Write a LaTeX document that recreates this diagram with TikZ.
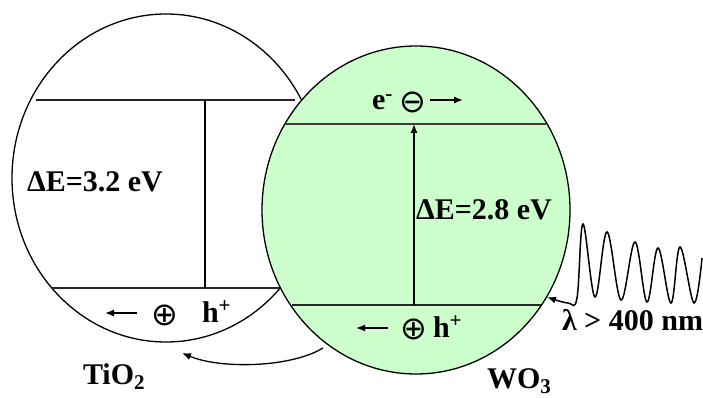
\documentclass[tikz,border=0pt]{standalone}
\usepackage{fontspec}
\setmainfont{Liberation Serif}
\newfontfamily\symfont{DejaVu Sans}
\usetikzlibrary{shapes.geometric,arrows.meta}
\definecolor{wogreen}{RGB}{204,255,204}
\begin{document}
\begin{tikzpicture}[x=1pt,y=-1pt,
  every node/.style={inner sep=0pt, outer sep=0pt},
  txt/.style={font=\fontsize{30}{32}\selectfont\bfseries},
  sym/.style={font=\fontsize{32}{34}\selectfont\symfont},
  particle/.style={ellipse, draw=black, line width=1.3pt, inner sep=0pt,
    minimum width=308pt, minimum height=328pt},
  band/.style={line width=1.5pt, draw=black!85},
  tip/.style={-{Latex[length=9pt,width=7pt]}},
  conn/.style={line width=1.3pt}]
\useasboundingbox (0,0) rectangle (703,398);

% TiO2 particle
\node[particle, fill=white] (tio2) at (166,178) {};
\draw[band] (36,100) -- (295,100);
\draw[band] (52,288) -- (280,288);
\coordinate (tcb) at (205,100);
\coordinate (tvb) at (205,288);
\draw[conn] (tvb) -- (tcb);
\node[txt, anchor=base west] (dE1) at (27,191) {ΔE=3.2 eV};
\coordinate (ta1) at (137,313);
\coordinate (ta2) at (105,313);
\draw[conn, tip] (ta1) -- (ta2);
\node[sym] (tplus) at (165,315) {⊕};
\node[txt, anchor=base west] (th) at (202,322) {h\textsuperscript{+}};

% WO3 particle
\node[particle, fill=wogreen] (wo3) at (416,210) {};
\draw[band, draw=black!75] (285,124) -- (546,124);
\draw[band] (292,305) -- (541,305);
\coordinate (wcb) at (414,124);
\coordinate (wvb) at (414,305);
\draw[conn, tip] (wvb) -- (wcb);
\node[txt, anchor=base west] (dE2) at (416,219) {ΔE=2.8 eV};
\node[txt, anchor=base west] (we) at (372,110) {e\textsuperscript{-}};
\node[sym] (wminus) at (413,102) {⊖};
\coordinate (wa1) at (430,100);
\coordinate (wa2) at (463,100);
\draw[conn, tip] (wa1) -- (wa2);
\coordinate (wb1) at (388,328);
\coordinate (wb2) at (356,328);
\draw[conn, tip] (wb1) -- (wb2);
\node[sym] (wplus) at (414,329) {⊕};
\node[txt, anchor=base west] (wh) at (433,337) {h\textsuperscript{+}};

% hole transfer arrow
\coordinate (hs) at (323,348);
\coordinate (he) at (182,353);
\draw[conn, tip] (hs) .. controls (290,368) and (220,369) .. (he);

% light wave
\draw[conn, line width=1.5pt, tip] plot[smooth, tension=0.6] coordinates {
  (702,258) (694,303) (680,247) (671,303) (658,248) (647,302)
  (635,242) (621,300) (607,232) (595,297) (583,224) (577,298)
  (568,303) (547,297)};

% labels
\node[txt, anchor=base west] (ltio2) at (83,384) {TiO\textsubscript{2}};
\node[txt, anchor=base west] (lwo3) at (487,388) {WO\textsubscript{3}};
\node[txt, anchor=base west] (lam) at (562,330) {λ > 400 nm};
\end{tikzpicture}
\end{document}
